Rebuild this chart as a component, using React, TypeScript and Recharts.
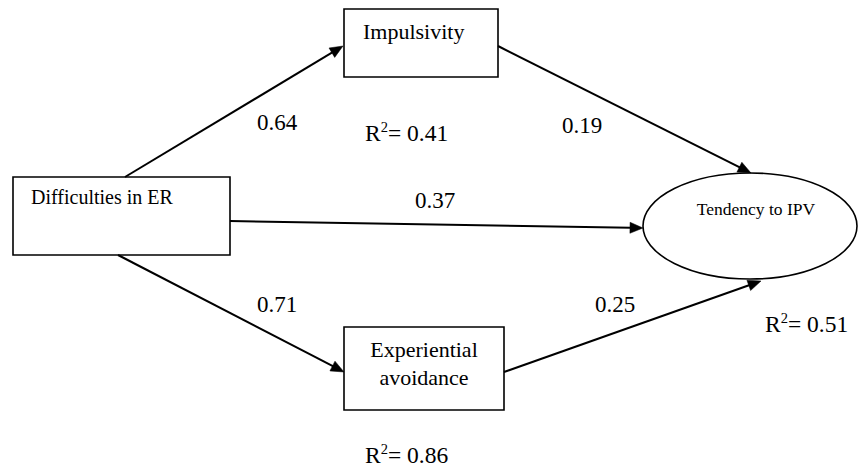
import React from 'react';
import { ScatterChart, XAxis, YAxis, Scatter, ReferenceArea, ReferenceLine } from 'recharts';

// ---- values ----
const constructs = ['Difficulties in ER', 'Impulsivity', 'Experiential avoidance', 'Tendency to IPV'];

const paths = [
  { from: 'Difficulties in ER', to: 'Impulsivity', beta: 0.64 },
  { from: 'Difficulties in ER', to: 'Tendency to IPV', beta: 0.37 },
  { from: 'Difficulties in ER', to: 'Experiential avoidance', beta: 0.71 },
  { from: 'Impulsivity', to: 'Tendency to IPV', beta: 0.19 },
  { from: 'Experiential avoidance', to: 'Tendency to IPV', beta: 0.25 },
];

const rSquared = [
  { construct: 'Impulsivity', r2: 0.41 },
  { construct: 'Experiential avoidance', r2: 0.86 },
  { construct: 'Tendency to IPV', r2: 0.51 },
];

// ---- diagram layout (in diagram units, mapped through the axes' scales) ----
const nodeFrames = [
  { x1: 13, x2: 230, y1: 177, y2: 255, kind: 'box' },
  { x1: 344, x2: 498, y1: 9, y2: 77, kind: 'box' },
  { x1: 344, x2: 504, y1: 327, y2: 410, kind: 'box' },
  { x1: 643, x2: 857, y1: 173, y2: 279, kind: 'ellipse' },
];

const nodeTextLines = [
  [{ x: 31, y: 204, anchor: 'start', size: 20 }],
  [{ x: 363, y: 39, anchor: 'start', size: 22 }],
  [
    { x: 424, y: 357, anchor: 'middle', size: 22 },
    { x: 424, y: 385, anchor: 'middle', size: 22 },
  ],
  [{ x: 756, y: 215, anchor: 'middle', size: 17.5 }],
];

const pathEnds = [
  [{ x: 125, y: 177 }, { x: 343, y: 46 }],
  [{ x: 230, y: 221 }, { x: 643, y: 228 }],
  [{ x: 118, y: 255 }, { x: 344, y: 372 }],
  [{ x: 498, y: 46 }, { x: 751, y: 173 }],
  [{ x: 504, y: 372 }, { x: 761, y: 281 }],
];

const pathLabelAt = [
  { x: 257, y: 130 },
  { x: 415, y: 208 },
  { x: 257, y: 312 },
  { x: 562, y: 133 },
  { x: 595, y: 312 },
];

const r2LabelAt = [
  { x: 365, y: 141 },
  { x: 365, y: 463 },
  { x: 765, y: 332 },
];

const W = 858;
const H = 467;
const FONT = "'Liberation Serif', 'Times New Roman', Times, serif";

// split "Experiential avoidance" into two lines as in the figure
const nodeWords = (name: string, n: number) => (n === 2 ? name.split(' ') : [name]);

const nodeLabelData = constructs.flatMap((name, i) => {
  const lines = nodeWords(name, nodeTextLines[i].length);
  return nodeTextLines[i].map((p, j) => ({ x: p.x, y: p.y, text: lines[j], anchor: p.anchor, size: p.size }));
});

const pathLabelData = paths.map((p, i) => ({ x: pathLabelAt[i].x, y: pathLabelAt[i].y, text: p.beta.toFixed(2) }));

const r2Data = rSquared.map((r, i) => ({ x: r2LabelAt[i].x, y: r2LabelAt[i].y, text: r.r2.toFixed(2) }));

const Arrow = (props: any) => {
  const { x1, y1, x2, y2 } = props;
  const dx = x2 - x1;
  const dy = y2 - y1;
  const len = Math.hypot(dx, dy) || 1;
  const ux = dx / len;
  const uy = dy / len;
  const hl = 13;
  const hw = 5.5;
  const bx = x2 - ux * hl;
  const by = y2 - uy * hl;
  const pts = `${x2},${y2} ${bx - uy * hw},${by + ux * hw} ${bx + uy * hw},${by - ux * hw}`;
  return (
    <g>
      <line x1={x1} y1={y1} x2={bx + ux * 1} y2={by + uy * 1} stroke="#000" strokeWidth={2} />
      <polygon points={pts} fill="#000" stroke="#000" strokeWidth={0.5} strokeLinejoin="miter" />
    </g>
  );
};

const EllipseShape = (props: any) => {
  const { x, y, width, height } = props;
  return (
    <ellipse
      cx={x + width / 2}
      cy={y + height / 2}
      rx={width / 2}
      ry={height / 2}
      fill="#fff"
      stroke="#000"
      strokeWidth={1.6}
    />
  );
};

const NodeText = (props: any) => {
  const { cx, cy, payload } = props;
  return (
    <text x={cx} y={cy} textAnchor={payload.anchor} fontFamily={FONT} fontSize={payload.size} fill="#000">
      {payload.text}
    </text>
  );
};

const CoefText = (props: any) => {
  const { cx, cy, payload } = props;
  return (
    <text x={cx} y={cy} fontFamily={FONT} fontSize={23} fill="#000">
      {payload.text}
    </text>
  );
};

const R2Text = (props: any) => {
  const { cx, cy, payload } = props;
  return (
    <text x={cx} y={cy} fontFamily={FONT} fontSize={23.5} fill="#000">
      <tspan>R</tspan>
      <tspan fontSize={14.5} dy={-9}>2</tspan>
      <tspan dy={9}>{'= ' + payload.text}</tspan>
    </text>
  );
};

export default function App() {
  return (
    <div style={{ position: 'absolute', left: 0, top: 0, width: W, height: H, background: '#fff' }}>
      <ScatterChart width={W} height={H} margin={{ top: 0, right: 0, bottom: 0, left: 0 }}>
        <XAxis type="number" dataKey="x" domain={[0, W]} allowDataOverflow hide />
        <YAxis type="number" dataKey="y" domain={[0, H]} allowDataOverflow reversed hide />
        {nodeFrames.map((f, i) =>
          f.kind === 'ellipse' ? (
            <ReferenceArea
              key={'n' + i}
              x1={f.x1}
              x2={f.x2}
              y1={f.y1}
              y2={f.y2}
              ifOverflow="visible"
              shape={EllipseShape}
            />
          ) : (
            <ReferenceArea
              key={'n' + i}
              x1={f.x1}
              x2={f.x2}
              y1={f.y1}
              y2={f.y2}
              ifOverflow="visible"
              fill="#fff"
              fillOpacity={1}
              stroke="#000"
              strokeWidth={1.6}
            />
          )
        )}
        {pathEnds.map((seg, i) => (
          <ReferenceLine
            key={'a' + i}
            segment={seg}
            ifOverflow="visible"
            stroke="#000"
            strokeWidth={2}
            shape={Arrow}
          />
        ))}
        <Scatter data={nodeLabelData} shape={NodeText} isAnimationActive={false} />
        <Scatter data={pathLabelData} shape={CoefText} isAnimationActive={false} />
        <Scatter data={r2Data} shape={R2Text} isAnimationActive={false} />
      </ScatterChart>
    </div>
  );
}
